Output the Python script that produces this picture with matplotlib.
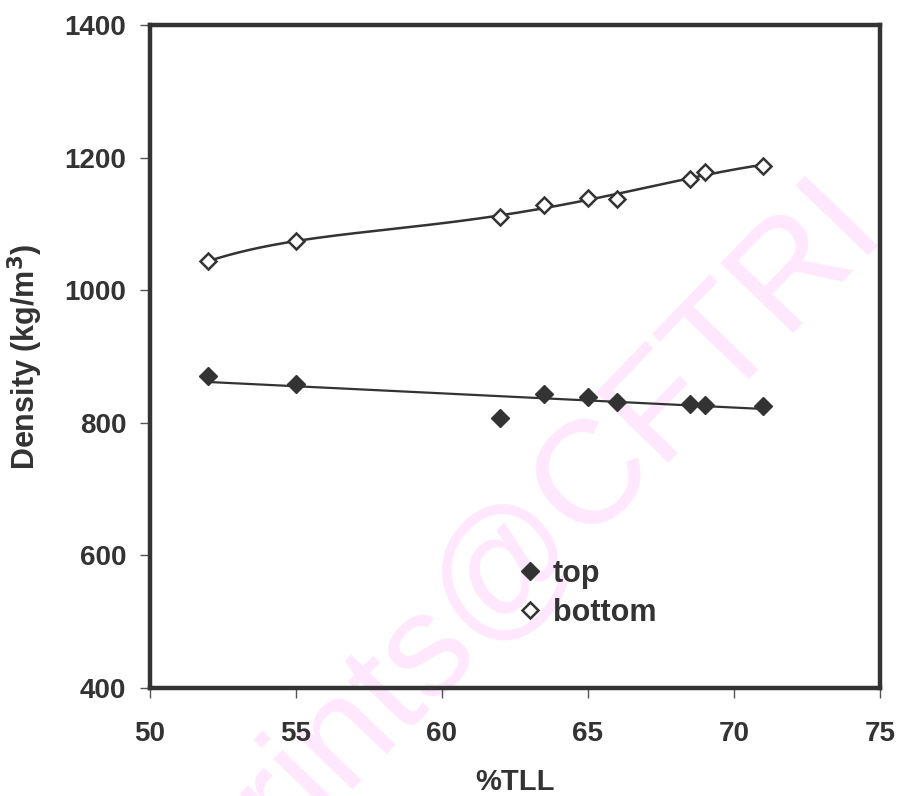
import matplotlib
matplotlib.use('Agg')
import matplotlib.pyplot as plt
import numpy as np

# %TLL and density readings for the two layers
tll = [52, 55, 62, 63.5, 65, 66, 68.5, 69, 71]
top = [870, 858, 807, 843, 839, 832, 829, 827, 826]
bottom = [1044, 1074, 1111, 1128, 1139, 1138, 1168, 1178, 1188]

xticks = [50, 55, 60, 65, 70, 75]
yticks = [400, 600, 800, 1000, 1200, 1400]

dark = '#333333'
font = 'Liberation Sans'

fig = plt.figure(figsize=(9.02, 7.96), dpi=100)
ax = fig.add_axes([0.1663, 0.1357, 0.8093, 0.8329])
ax.set_zorder(1)

# trendlines: linear for top, polynomial for bottom
xs = np.linspace(min(tll), max(tll), 200)
pt = np.polyfit(tll, top, 1)
pb = np.polyfit(tll, bottom, 4)
ax.plot(xs, np.polyval(pt, xs), color=dark, lw=1.6, zorder=2)
ax.plot(xs, np.polyval(pb, xs), color=dark, lw=1.8, zorder=2)

ax.plot(tll, top, 'D', color=dark, ms=9, ls='none', label='top', zorder=3)
ax.plot(tll, bottom, 'D', mfc='white', mec=dark, mew=1.8, ms=8, ls='none',
        label='bottom', zorder=3)

ax.set_xlim(50, 75)
ax.set_ylim(400, 1400)
ax.set_xticks(xticks)
ax.set_yticks(yticks)
for s in ax.spines.values():
    s.set_linewidth(3.2)
    s.set_color(dark)
ax.tick_params(direction='out', length=7, width=1, color='#555555')
ax.tick_params(axis='y', pad=10)
ax.tick_params(axis='x', pad=17)
for lab in ax.get_xticklabels() + ax.get_yticklabels():
    lab.set_fontfamily(font)
    lab.set_fontweight('bold')
    lab.set_fontsize(20)
    lab.set_color(dark)

ax.set_xlabel('%TLL', fontfamily=font, fontweight='bold', fontsize=21,
              color=dark, labelpad=15)
ax.set_ylabel('Density (kg/m$^\\mathbf{3}$)', fontfamily=font, fontweight='bold',
              fontsize=22, color=dark, labelpad=14)

leg = ax.legend(loc='upper left', bbox_to_anchor=(0.462, 0.236), frameon=False,
                prop={'family': font, 'weight': 'bold', 'size': 22},
                handletextpad=0.25, labelspacing=0.3, handlelength=1.0,
                markerscale=1.0)
for t in leg.get_texts():
    t.set_color(dark)

# faint diagonal stamp behind the plot
fig.text(0.5576, 0.280, 'eprints@CFTRI', rotation=46, fontsize=106,
         fontfamily=font, color='#ffe8fd', ha='center', va='center',
         rotation_mode='anchor', zorder=0)
ax.set_facecolor('none')

plt.savefig('out.png', dpi=100)
